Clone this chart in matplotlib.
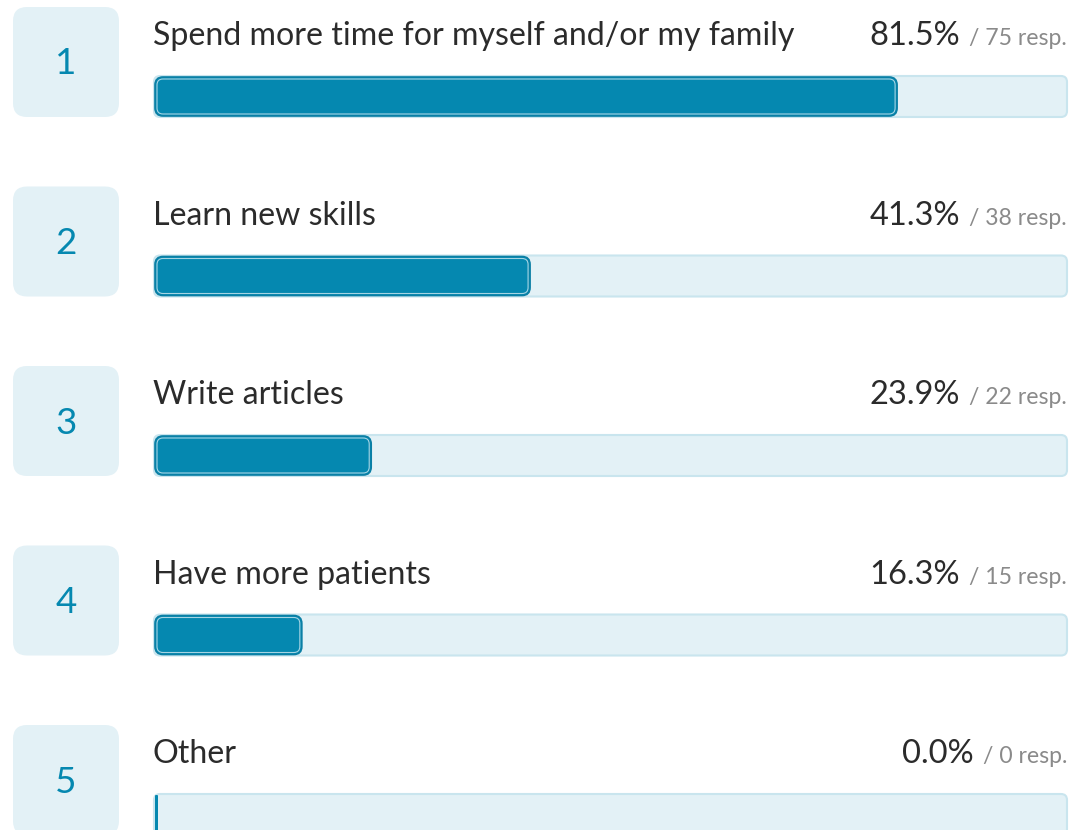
import matplotlib.pyplot as plt
from matplotlib.patches import FancyBboxPatch

# survey answers
labels = ['Spend more time for myself and/or my family', 'Learn new skills',
          'Write articles', 'Have more patients', 'Other']
pcts = [81.5, 41.3, 23.9, 16.3, 0.0]
counts = [75, 38, 22, 15, 0]
ranks = [1, 2, 3, 4, 5]

W, H = 1074, 830
FONT = ['Lato', 'DejaVu Sans']
BLUE = '#0588b0'
LIGHT = '#e3f1f6'
EDGE = '#c9e5ee'

fig = plt.figure(figsize=(W / 100, H / 100), dpi=100)
ax = fig.add_axes([0, 0, 1, 1])
ax.set_xlim(0, W)
ax.set_ylim(H, 0)
ax.axis('off')

step = 179.5
tx0, tx1 = 154, 1067
tw = tx1 - tx0
renderer = fig.canvas.get_renderer()

for i, (lab, p, c, r) in enumerate(zip(labels, pcts, counts, ranks)):
    y0 = 7 + i * step
    # rank box
    ax.add_patch(FancyBboxPatch((13, y0), 106, 110, boxstyle='round,pad=0,rounding_size=14',
                                fc=LIGHT, ec='none'))
    ax.text(66, y0 + 57, str(r), ha='center', va='center', fontsize=26.5,
            color=BLUE, family=FONT)
    # label
    ax.text(tx0 - 1, y0 + 38, lab, ha='left', va='baseline', fontsize=23.1,
            color='#2b2b2b', family=FONT)
    # right side text
    t = ax.text(tx1, y0 + 38, '/ %d resp.' % c, ha='right', va='baseline',
                fontsize=16.6, color='#8a8a8a', family=FONT)
    xl = t.get_window_extent(renderer).x0
    ax.text(xl - 9, y0 + 38, '%.1f%%' % p, ha='right', va='baseline',
            fontsize=23.5, color='#2b2b2b', family=FONT)
    # track
    ty = y0 + 69
    ax.add_patch(FancyBboxPatch((tx0, ty), tw, 41, boxstyle='round,pad=0,rounding_size=6',
                                fc=LIGHT, ec=EDGE, lw=1.5))
    # fill
    fw = max(tw * p / 100, 3)
    if p > 0:
        ax.add_patch(FancyBboxPatch((tx0 + 1, ty + 1), fw - 2, 39,
                                    boxstyle='round,pad=0,rounding_size=8',
                                    fc=BLUE, ec='#0b7fa5', lw=1.2))
        ax.add_patch(FancyBboxPatch((tx0 + 3, ty + 3), fw - 6, 35,
                                    boxstyle='round,pad=0,rounding_size=6',
                                    fc='none', ec='#cfe8f1', lw=0.8, alpha=0.8))
    else:
        ax.add_patch(FancyBboxPatch((tx0 + 1, ty + 1), fw, 39,
                                    boxstyle='round,pad=0,rounding_size=1',
                                    fc=BLUE, ec='none'))

fig.savefig('out.png', dpi=100, facecolor='white')
